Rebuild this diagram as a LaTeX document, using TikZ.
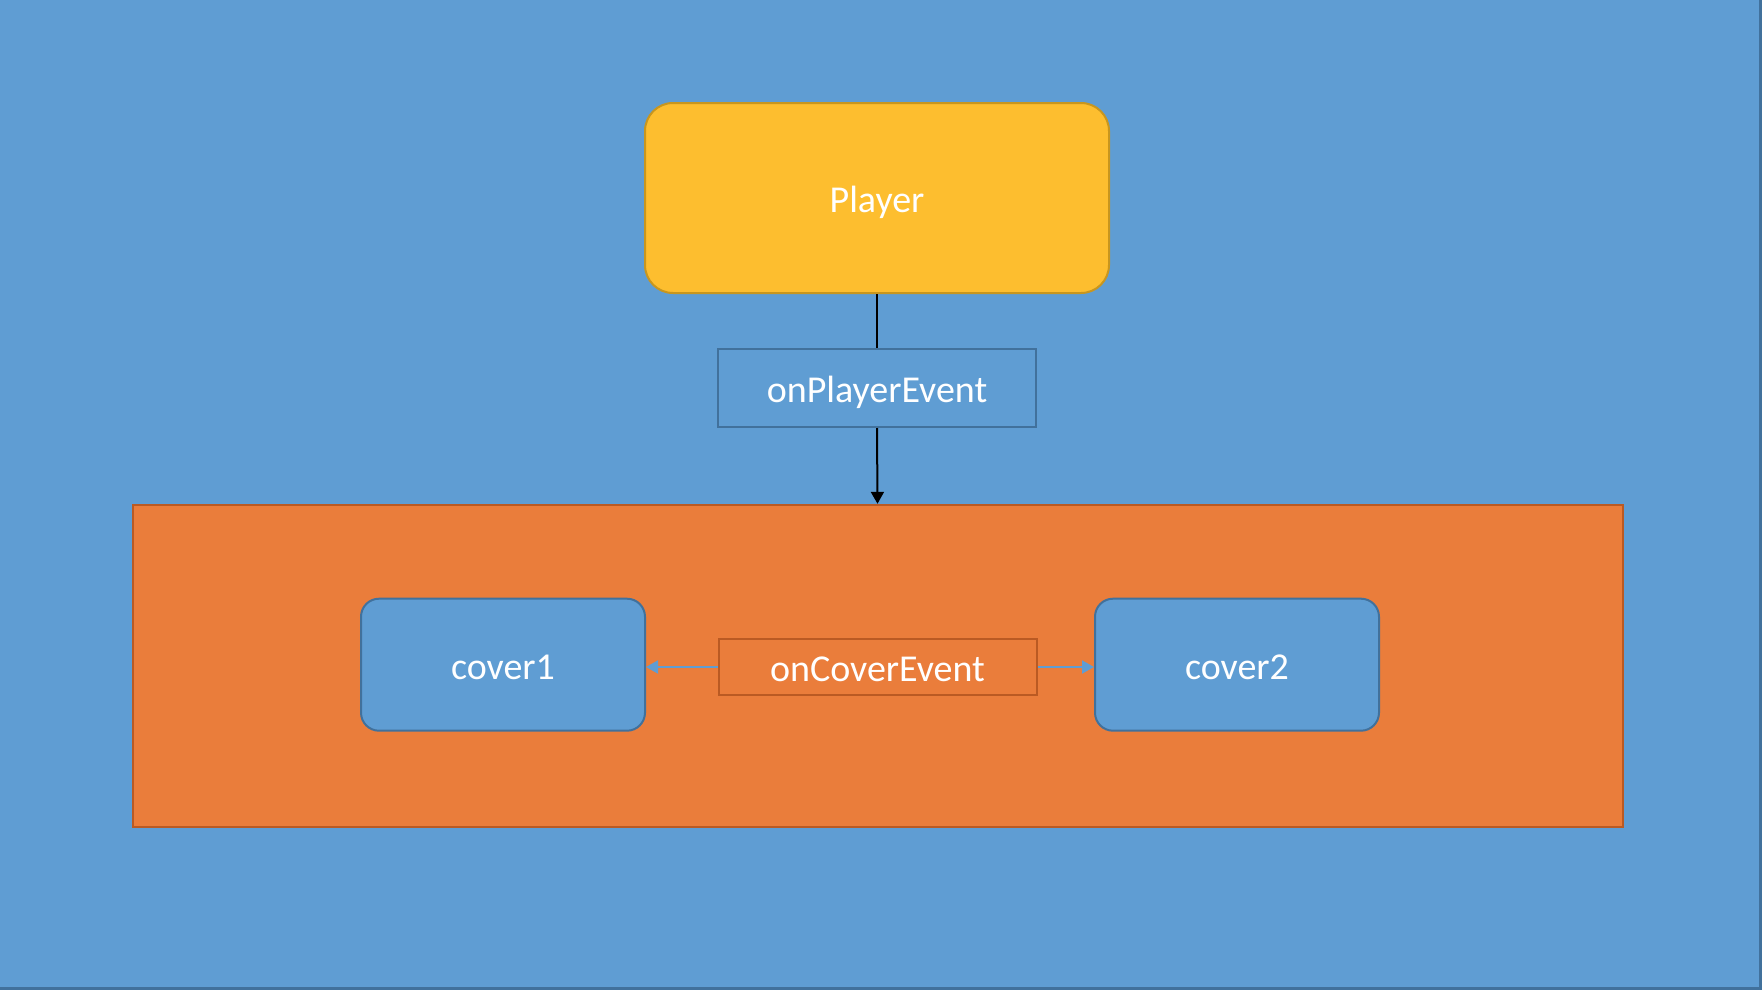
\documentclass[tikz,border=0pt]{standalone}
\usepackage{fontspec}
\setmainfont{Carlito}
\usetikzlibrary{arrows.meta}
\definecolor{bgblue}{RGB}{95,157,211}
\definecolor{bgborder}{RGB}{65,113,156}
\definecolor{orangefill}{RGB}{234,125,59}
\definecolor{orangeborder}{RGB}{186,90,35}
\definecolor{goldfill}{RGB}{253,190,47}
\definecolor{goldborder}{RGB}{200,150,30}
\tikzset{
  lbl/.style={text=white, font=\fontsize{38}{45}\selectfont, inner sep=0pt, text height=29.5pt, text depth=0pt},
  playerbox/.style={lbl, draw=goldborder, fill=goldfill, line width=2pt, rounded corners=28pt, minimum width=464pt, minimum height=190pt},
  eventbox/.style={lbl, draw=bgborder, fill=bgblue, line width=2pt, minimum width=318pt, minimum height=78pt},
  coverbox/.style={lbl, draw=bgborder, fill=bgblue, line width=2pt, rounded corners=18pt, minimum width=284pt, minimum height=132pt},
  cevbox/.style={lbl, draw=orangeborder, fill=orangefill, line width=2pt, minimum width=318pt, minimum height=56pt},
  groupbox/.style={draw=orangeborder, fill=orangefill, line width=2pt, minimum width=1490pt, minimum height=322pt, inner sep=0pt},
  blackarrow/.style={draw=black, line width=2pt, -{Triangle[length=12pt,width=13pt]}},
  blackline/.style={draw=black, line width=2pt},
  bluearrow/.style={draw=bgblue, line width=2pt, -{Triangle[length=12pt,width=13pt]}}
}
\begin{document}
\begin{tikzpicture}[x=1pt,y=-1pt]
\useasboundingbox (0,0) rectangle (1762,990);
\fill[bgblue] (0,0) rectangle (1762,990);
\draw[bgborder, line width=3pt] (0,988.5) -- (1760.5,988.5) -- (1760.5,0);
\node[groupbox] (group) at (877.5,665.8) {};
\node[playerbox] (player) at (877,198) {Player};
\node[eventbox] (pe) at (877,388) {onPlayerEvent};
\node[coverbox] (cover1) at (503,664.7) {cover1};
\node[coverbox] (cover2) at (1237,664.7) {cover2};
\node[cevbox] (ce) at (877.5,667) {onCoverEvent};
\draw[blackline] (player.south) -- (pe.north);
\draw[blackarrow] (pe.south) -- (group.north);
\draw[bluearrow] (ce.west) -- (cover1.east |- ce.west);
\draw[bluearrow] (ce.east) -- (cover2.west |- ce.east);
\end{tikzpicture}
\end{document}
